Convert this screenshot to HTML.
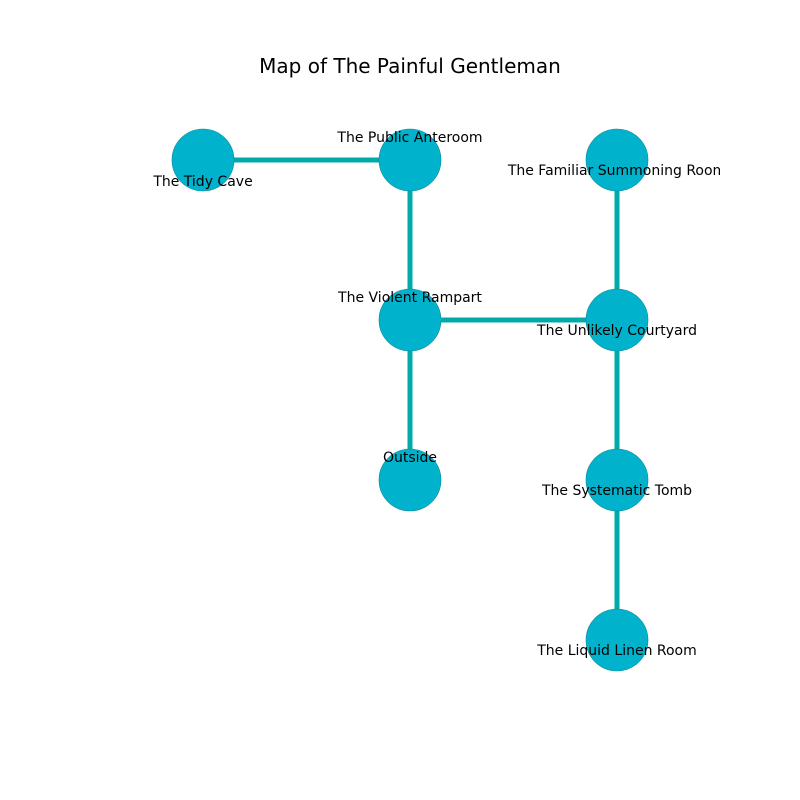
<!DOCTYPE html>
<html><head><style>body{margin:0;background:#fff}svg{display:block}</style></head><body>
<svg width="800" height="800" viewBox="0 0 800 800" xmlns="http://www.w3.org/2000/svg" font-family="DejaVu Sans, sans-serif">
<defs><clipPath id="c"><rect x="0" y="0" width="720" height="800"/></clipPath></defs>
<rect width="800" height="800" fill="#fff"/>
<text x="410" y="73" font-size="20" text-anchor="middle" fill="#000">Map of The Painful Gentleman</text>
<g stroke="#00aaaa" stroke-width="5">
<line x1="203" y1="160" x2="410" y2="160"/>
<line x1="410" y1="160" x2="410" y2="480"/>
<line x1="410" y1="320" x2="617" y2="320"/>
<line x1="617" y1="160" x2="617" y2="640"/>
</g>
<g fill="#00b2cc" stroke="#0a8a99" stroke-width="0.6">
<circle cx="203" cy="160" r="31"/>
<circle cx="410" cy="160" r="31"/>
<circle cx="617" cy="160" r="31"/>
<circle cx="410" cy="320" r="31"/>
<circle cx="617" cy="320" r="31"/>
<circle cx="410" cy="480" r="31"/>
<circle cx="617" cy="480" r="31"/>
<circle cx="617" cy="640" r="31"/>
</g>
<g font-size="14" text-anchor="middle" fill="#000" clip-path="url(#c)">
<text x="203" y="186">The Tidy Cave</text>
<text x="410" y="142">The Public Anteroom</text>
<text x="617" y="175">The Familiar Summoning Room</text>
<text x="410" y="302">The Violent Rampart</text>
<text x="617" y="335">The Unlikely Courtyard</text>
<text x="410" y="462">Outside</text>
<text x="617" y="495">The Systematic Tomb</text>
<text x="617" y="655">The Liquid Linen Room</text>
</g>
</svg>
</body></html>
